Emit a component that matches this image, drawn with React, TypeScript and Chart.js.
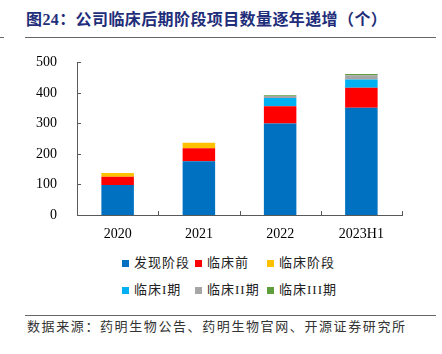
import React, { useEffect, useRef } from "react";
import { Chart, registerables } from "chart.js";

Chart.register(...registerables);

const categories = ["2020", "2021", "2022", "2023H1"];
const discovery = [98, 176, 300, 351];
const preclinical = [27, 43, 56, 66];
const clinical = [13, 18, 0, 0];
const phase1 = [0, 0, 27, 27];
const phase2 = [0, 0, 7, 14];
const phase3 = [0, 0, 2, 4];
const yTicks = [0, 100, 200, 300, 400, 500];

const seriesNames = ["发现阶段", "临床前", "临床阶段", "临床I期", "临床II期", "临床III期"];
const seriesColors = ["#0070C0", "#FF0000", "#FFC000", "#00B0F0", "#A6A6A6", "#5E9E3C"];
const seriesData = [discovery, preclinical, clinical, phase1, phase2, phase3];

const axisColor = "#595959";

const innerTicks = {
  id: "innerTicks",
  afterDraw(chart: any) {
    const ctx = chart.ctx;
    const x = chart.scales.x;
    const y = chart.scales.y;
    ctx.save();
    ctx.strokeStyle = axisColor;
    ctx.lineWidth = 1;
    ctx.beginPath();
    yTicks.forEach((v) => {
      const py = Math.round(y.getPixelForValue(v)) + 0.5;
      ctx.moveTo(x.left, py);
      ctx.lineTo(x.left + 4, py);
    });
    for (let i = 0; i <= categories.length; i++) {
      const px = Math.round(x.getPixelForValue(i - 0.5)) + 0.5;
      ctx.moveTo(px, y.bottom);
      ctx.lineTo(px, y.bottom - 4);
    }
    ctx.stroke();
    ctx.restore();
  },
};

function App() {
  const ref = useRef<HTMLCanvasElement | null>(null);
  useEffect(() => {
    if (!ref.current) return;
    const chart = new Chart(ref.current, {
      type: "bar",
      data: {
        labels: categories,
        datasets: seriesNames.map((name, i) => ({
          label: name,
          data: seriesData[i],
          backgroundColor: seriesColors[i],
          borderWidth: 0,
          barPercentage: 0.4,
          categoryPercentage: 1,
        })),
      },
      options: {
        animation: false,
        responsive: false,
        maintainAspectRatio: false,
        layout: { padding: { left: 0, right: 40, top: 4, bottom: 0 } },
        plugins: {
          legend: { display: false },
          tooltip: { enabled: false },
          title: { display: false },
        },
        scales: {
          x: {
            stacked: true,
            grid: { display: false },
            border: { display: true, color: axisColor, width: 1 },
            ticks: {
              color: "#000",
              font: { family: "'Liberation Serif', serif", size: 14 },
              padding: 3,
            },
            afterFit: (s: any) => {
              s.height = 35;
            },
          },
          y: {
            stacked: true,
            min: 0,
            max: 500,
            grid: { display: false },
            border: { display: true, color: axisColor, width: 1 },
            ticks: {
              stepSize: 100,
              color: "#000",
              font: { family: "'Liberation Serif', serif", size: 14 },
              padding: 12,
            },
            afterFit: (s: any) => {
              s.width = 77;
            },
          },
        },
      },
      plugins: [innerTicks],
    });
    return () => chart.destroy();
  }, []);

  const cjk = "'Liberation Serif', 'Noto Sans CJK SC', serif";
  const legendPos = [
    [122, 263],
    [195, 263],
    [267, 263],
    [122, 290],
    [195, 290],
    [267, 290],
  ];

  return (
    <div
      style={{
        position: "fixed",
        left: 0,
        top: 0,
        width: 442,
        height: 354,
        background: "#fff",
        overflow: "hidden",
      }}
    >
      <div
        style={{
          position: "absolute",
          left: 26,
          top: 9,
          fontFamily: cjk,
          fontWeight: 700,
          fontSize: 16,
          letterSpacing: 0.4,
          color: "#1F2E7A",
          whiteSpace: "nowrap",
          lineHeight: "22px",
        }}
      >
        图24：公司临床后期阶段项目数量逐年递增（个）
      </div>
      <div style={{ position: "absolute", left: 0, top: 37, width: 4, height: 1, background: "#666" }} />
      <div style={{ position: "absolute", left: 25, top: 37, width: 411, height: 1, background: "#666" }} />
      <canvas
        ref={ref}
        width={442}
        height={208}
        style={{ position: "absolute", left: 0, top: 42, width: 442, height: 208 }}
      />
      {seriesNames.map((name, i) => (
        <div
          key={name}
          style={{
            position: "absolute",
            left: legendPos[i][0],
            top: legendPos[i][1] - 10,
            height: 20,
            display: "flex",
            alignItems: "center",
            whiteSpace: "nowrap",
          }}
        >
          <span
            style={{
              display: "inline-block",
              width: 7,
              height: 7,
              background: seriesColors[i],
              marginRight: 5,
            }}
          />
          <span
            style={{
              fontFamily: cjk,
              fontSize: 13,
              letterSpacing: 1,
              color: "#222",
              lineHeight: "20px",
            }}
          >
            {name}
          </span>
        </div>
      ))}
      <div style={{ position: "absolute", left: 25, top: 315, width: 411, height: 1, background: "#666" }} />
      <div
        style={{
          position: "absolute",
          left: 27,
          top: 317,
          fontFamily: cjk,
          fontSize: 13,
          letterSpacing: 1.6,
          color: "#333",
          whiteSpace: "nowrap",
          lineHeight: "20px",
        }}
      >
        数据来源：药明生物公告、药明生物官网、开源证券研究所
      </div>
    </div>
  );
}

export default App;
